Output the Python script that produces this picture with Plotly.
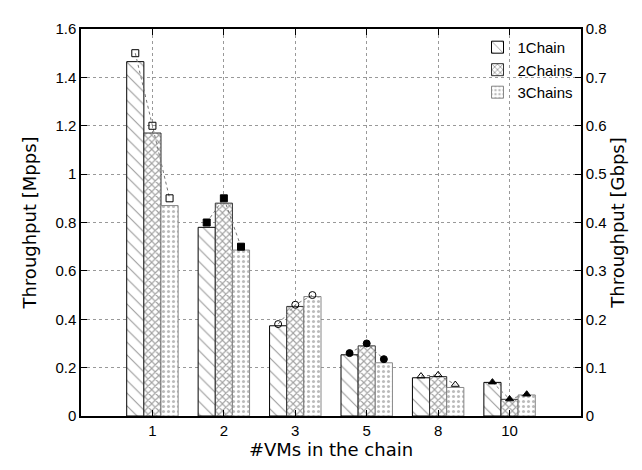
import plotly.graph_objects as go
import numpy as np

categories = ["1", "2", "3", "5", "8", "10"]
series_names = ["1Chain", "2Chains", "3Chains"]
bars_1chain = [1.465, 0.78, 0.373, 0.253, 0.158, 0.139]
bars_2chains = [1.17, 0.88, 0.453, 0.29, 0.163, 0.069]
bars_3chains = [0.87, 0.686, 0.494, 0.22, 0.118, 0.087]
# marker measurements per VM count (1Chain, 2Chains, 3Chains)
marks_1 = [1.50, 1.20, 0.90]
marks_2 = [0.80, 0.90, 0.70]
marks_3 = [0.38, 0.46, 0.50]
marks_5 = [0.26, 0.30, 0.235]
marks_8 = [0.165, 0.17, 0.13]
marks_10 = [0.14, 0.07, 0.09]
y_ticks_left = [0, 0.2, 0.4, 0.6, 0.8, 1, 1.2, 1.4, 1.6]
y_ticks_right = [0, 0.1, 0.2, 0.3, 0.4, 0.5, 0.6, 0.7, 0.8]

bar_series = [bars_1chain, bars_2chains, bars_3chains]
mark_series = [marks_1, marks_2, marks_3, marks_5, marks_8, marks_10]
mark_symbols = ["square-open", "square", "circle-open", "circle", "triangle-up-open", "triangle-up"]

pos = np.arange(len(categories))
width = 0.24
offsets = [-width, 0, width]
patterns = [
    dict(shape="\\", size=9, solidity=0.12, fgcolor="#333", bgcolor="white"),
    dict(shape="x", size=5, solidity=0.4, fgcolor="#444", bgcolor="white"),
    dict(shape=".", size=5, solidity=0.3, fgcolor="#777", bgcolor="white"),
]
line_cols = ["black", "#333", "#888"]

fig = go.Figure()
for j, name in enumerate(series_names):
    fig.add_trace(go.Bar(
        x=pos + offsets[j], y=bar_series[j], width=width, name=name,
        marker=dict(color="white", pattern=patterns[j],
                    line=dict(color=line_cols[j], width=1)),
    ))

for i, vals in enumerate(mark_series):
    fig.add_trace(go.Scatter(
        x=[pos[i] + o for o in offsets], y=vals, mode="lines+markers",
        showlegend=False,
        line=dict(color="#777", width=1, dash="dot"),
        marker=dict(symbol=mark_symbols[i], size=7, color="black",
                    line=dict(color="black", width=1)),
    ))

# invisible trace to anchor the right axis
fig.add_trace(go.Scatter(x=[0], y=[0], yaxis="y2", mode="markers",
                         marker=dict(opacity=0), showlegend=False, hoverinfo="skip"))

tickfam = "Liberation Sans, Arial"
tickfont = dict(family=tickfam, size=15, color="black")
titlefont = dict(family="DejaVu Sans, Liberation Sans, Arial", size=18, color="black")

fig.update_layout(
    width=642, height=470,
    margin=dict(l=73, r=69, t=16, b=62),
    paper_bgcolor="white", plot_bgcolor="white",
    barmode="overlay",
    showlegend=True,
    legend=dict(x=0.995, y=0.995, xanchor="right", yanchor="top",
                bgcolor="rgba(255,255,255,0)", font=dict(family=tickfam, size=15, color="black"),
                tracegroupgap=0, itemwidth=30),
    xaxis=dict(
        range=[-1, 6], tickvals=list(pos), ticktext=categories,
        tickfont=tickfont, ticks="inside", ticklen=6, tickcolor="black",
        showgrid=True, gridcolor="#999", griddash="dot", gridwidth=1,
        showline=True, linecolor="black", linewidth=2, mirror="ticks",
        zeroline=False,
        title=dict(text="#VMs in the chain", font=titlefont, standoff=4),
    ),
    yaxis=dict(
        range=[0, 1.6], tickvals=y_ticks_left,
        ticktext=[f"{v:g}" for v in y_ticks_left],
        tickfont=tickfont, ticks="inside", ticklen=6, tickcolor="black",
        showgrid=True, gridcolor="#999", griddash="dot", gridwidth=1,
        showline=True, linecolor="black", linewidth=1.5, mirror=False,
        zeroline=False,
        title=dict(text="Throughput [Mpps]", font=titlefont, standoff=14),
    ),
    yaxis2=dict(
        range=[0, 0.8], tickvals=y_ticks_right,
        ticktext=[f"{v:g}" for v in y_ticks_right],
        overlaying="y", side="right",
        tickfont=tickfont, ticks="inside", ticklen=6, tickcolor="black",
        showgrid=False, showline=True, linecolor="black", linewidth=1.5,
        zeroline=False,
        title=dict(text="Throughput [Gbps]", font=titlefont, standoff=6),
    ),
)

fig.write_html("out.html")
